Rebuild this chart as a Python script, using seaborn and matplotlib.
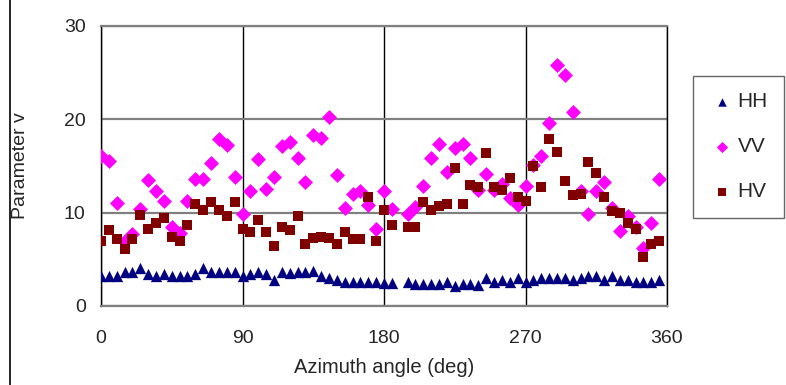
import numpy as np
import pandas as pd
import matplotlib
matplotlib.use("Agg")
import matplotlib.pyplot as plt
from matplotlib.lines import Line2D
import seaborn as sns

nan = np.nan
angles = list(range(0, 360, 5))

hh = [3.2, 3.2, 3.2, 3.6, 3.6, 4.1, 3.4, 3.2, 3.4, 3.2, 3.2, 3.2,
      3.4, 4.1, 3.6, 3.6, 3.6, 3.6, 3.2, 3.4, 3.6, 3.4, 2.8, 3.6,
      3.5, 3.6, 3.6, 3.8, 3.2, 3.0, 2.8, 2.6, 2.6, 2.6, 2.6, 2.6,
      2.5, 2.5, nan, 2.6, 2.4, 2.4, 2.4, 2.4, 2.6, 2.1, 2.4, 2.4,
      2.3, 3.0, 2.6, 2.8, 2.6, 3.0, 2.6, 2.8, 3.0, 3.0, 3.0, 3.0,
      2.8, 3.0, 3.2, 3.2, 2.8, 3.2, 2.8, 2.8, 2.6, 2.6, 2.6, 2.8]

vv = [16.1, 15.5, 11.0, 7.0, 7.7, 10.4, 13.5, 12.3, 11.2, 8.5, 7.8, 11.2,
      13.6, 13.6, 15.3, 17.9, 17.2, 13.8, 9.9, 12.3, 15.7, 12.5, 13.8, 17.1,
      17.6, 15.9, 13.3, 18.3, 18.0, 20.2, 14.0, 10.5, 12.0, 12.3, 10.8, 8.3,
      12.3, 10.4, nan, 9.9, 10.6, 12.9, 15.9, 17.4, 14.4, 16.9, 17.4, 15.9,
      12.4, 14.1, 12.4, 13.1, 11.6, 10.8, 12.9, 15.1, 16.1, 19.6, 25.8, 24.7,
      20.8, 12.3, 9.9, 12.3, 13.3, 10.5, 8.0, 9.6, 8.5, 6.2, 8.9, 13.6]

hv = [7.0, 8.1, 7.2, 6.1, 7.2, 9.8, 8.3, 8.9, 9.4, 7.4, 7.0, 8.7,
      10.9, 10.3, 11.1, 10.3, 9.6, 11.1, 8.3, 7.9, 9.2, 7.9, 6.4, 8.5,
      8.1, 9.6, 6.6, 7.3, 7.4, 7.3, 6.6, 7.9, 7.2, 7.2, 11.7, 7.0,
      10.3, 8.7, nan, 8.5, 8.5, 11.1, 10.3, 10.7, 10.9, 14.8, 10.9, 13.0,
      12.8, 16.4, 12.8, 12.4, 13.7, 11.7, 11.3, 15.0, 12.8, 17.9, 16.5, 13.4,
      11.9, 12.0, 15.4, 14.3, 11.7, 10.2, 10.0, 8.9, 8.3, 5.3, 6.6, 7.0]

series_names = ["HH", "VV", "HV"]
x_ticks = [0, 90, 180, 270, 360]
y_ticks = [0, 10, 20, 30]

df = pd.DataFrame({"angle": angles, "HH": hh, "VV": vv, "HV": hv})

sns.set_style("white")
plt.rcParams["font.family"] = ["Liberation Sans", "DejaVu Sans"]

fig = plt.figure(figsize=(7.86, 3.85), dpi=100)
ax = fig.add_axes([101 / 786, 1 - 306 / 385, 566 / 786, 280 / 385])

styles = {
    "HH": dict(color="#000080", marker="^", s=66),
    "VV": dict(color="#FF00FF", marker="D", s=58),
    "HV": dict(color="#800000", marker="s", s=56),
}
for name in series_names:
    st = styles[name]
    sns.scatterplot(data=df, x="angle", y=name, ax=ax, color=st["color"],
                    marker=st["marker"], s=st["s"], linewidth=0,
                    label=name, zorder=3)

ax.set_xlim(0, 360)
ax.set_ylim(0, 30)
ax.set_xticks(x_ticks)
ax.set_yticks(y_ticks)
ax.set_axisbelow(True)
ax.yaxis.grid(True, color="#808080", lw=1.6)
ax.xaxis.grid(True, color="black", lw=1.0)

for side in ["left", "right"]:
    ax.spines[side].set_color("black")
    ax.spines[side].set_linewidth(1.0)
for side in ["top", "bottom"]:
    ax.spines[side].set_color("#808080")
    ax.spines[side].set_linewidth(1.6)

ax.tick_params(axis="both", direction="out", length=4, width=1,
               color="black", labelsize=14)
ax.tick_params(axis="x", pad=13)
ax.tick_params(axis="y", pad=7)

ax.set_xlabel("Azimuth angle (deg)", fontsize=14.5)
ax.set_ylabel("Parameter v", fontsize=14)
ax.xaxis.set_label_coords(0.5, -0.185)
ax.yaxis.set_label_coords(-0.128, 0.5)

leg = ax.legend(loc="upper left", bbox_to_anchor=(692.7 / 786, 1 - 75.7 / 385),
                bbox_transform=fig.transFigure, frameon=True, fancybox=False,
                fontsize=15, labelspacing=1.25, borderpad=0.8,
                handletextpad=0.15, handlelength=1.2, markerscale=0.75,
                borderaxespad=0)
leg.get_frame().set_edgecolor("#404040")
leg.get_frame().set_linewidth(1.0)

fig.add_artist(Line2D([10 / 786, 10 / 786], [0, 1], color="black", lw=1.2,
                      transform=fig.transFigure))

fig.savefig("out.png", dpi=100)
